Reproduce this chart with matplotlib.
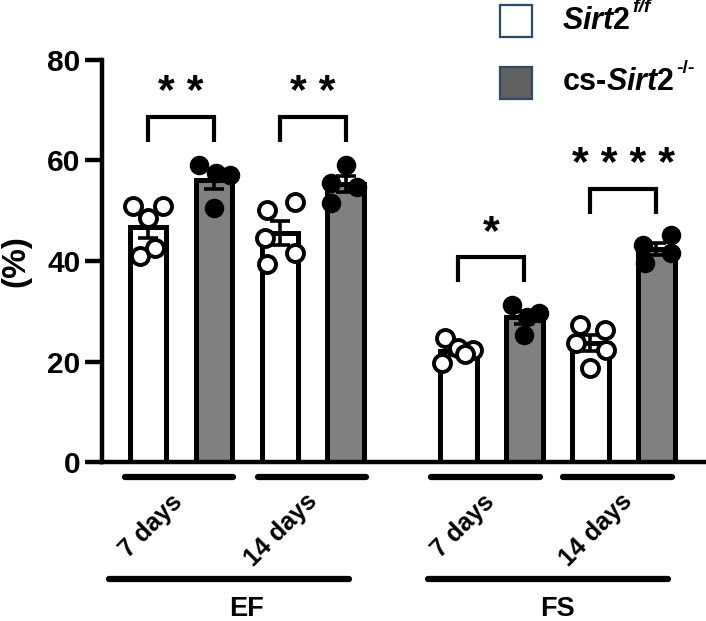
import numpy as np
import matplotlib
matplotlib.use('Agg')
import matplotlib.pyplot as plt
from matplotlib.patches import Rectangle
import matplotlib.transforms as mtransforms

plt.rcParams['font.family'] = ['Liberation Sans', 'DejaVu Sans']
plt.rcParams['font.weight'] = 'bold'
plt.rcParams['mathtext.fontset'] = 'custom'
plt.rcParams['mathtext.rm'] = 'Liberation Sans:bold'
plt.rcParams['mathtext.it'] = 'Liberation Sans:italic:bold'
plt.rcParams['mathtext.bf'] = 'Liberation Sans:bold'

# Data (individual animals, %)
groups = ['EF', 'FS']
days = ['7 days', '14 days', '7 days', '14 days']
ctrl_points = [
    [50.9, 50.9, 48.6, 40.9, 42.6],   # EF 7 days
    [50.2, 51.8, 44.6, 41.6, 39.4],   # EF 14 days
    [24.7, 22.7, 22.3, 21.5, 19.7],   # FS 7 days
    [27.3, 26.3, 23.7, 22.3, 18.7],   # FS 14 days
]
ko_points = [
    [59.2, 57.5, 57.2, 50.6],
    [59.2, 55.6, 51.6, 54.8],
    [31.3, 28.9, 29.7, 25.3],
    [45.2, 43.2, 41.6, 39.6],
]
# horizontal spread of the dots as seen in the picture
ctrl_jitter = [
    [-0.23, 0.23, 0.0, -0.12, 0.11],
    [-0.20, 0.23, -0.23, 0.23, -0.20],
    [-0.20, 0.0, 0.23, 0.10, -0.25],
    [-0.16, 0.22, -0.21, 0.24, 0.0],
]
ko_jitter = [
    [-0.22, 0.03, 0.24, 0.0],
    [0.0, -0.22, -0.22, 0.17],
    [-0.18, 0.05, 0.22, 0.0],
    [0.23, -0.20, 0.23, -0.17],
]
stars = ['* *', '* *', '*', '* * * *']
legend_names = ['$\\mathit{Sirt2}$', 'cs-$\\mathit{Sirt2}$']
legend_sups = ['f/f', '-/-']

ctrl_mean = [np.mean(p) for p in ctrl_points]
ko_mean = [np.mean(p) for p in ko_points]
ctrl_sem = [np.std(p, ddof=1) / np.sqrt(len(p)) for p in ctrl_points]
ko_sem = [np.std(p, ddof=1) / np.sqrt(len(p)) for p in ko_points]

# bar positions
pair_start = np.array([0, 2, 4.7, 6.7])
x_ctrl = pair_start
x_ko = pair_start + 1

fig = plt.figure(figsize=(7.06, 6.21), dpi=100)
ax = fig.add_axes([0.1445, 0.256, 0.854, 0.6474])

lw = 3.6
bw = 0.56
ax.bar(x_ctrl, ctrl_mean, width=bw, color='white', edgecolor='black', linewidth=lw, zorder=2)
ax.bar(x_ko, ko_mean, width=bw, color='#808080', edgecolor='black', linewidth=lw, zorder=2)
ax.errorbar(x_ctrl, ctrl_mean, yerr=ctrl_sem, fmt='none', ecolor='black',
            elinewidth=2.6, capsize=7, capthick=2.6, zorder=3)
ax.errorbar(x_ko, ko_mean, yerr=ko_sem, fmt='none', ecolor='black',
            elinewidth=2.6, capsize=7, capthick=2.6, zorder=3)

for i in range(4):
    ax.scatter(x_ctrl[i] + np.array(ctrl_jitter[i]), ctrl_points[i], s=150,
               facecolor='white', edgecolor='black', linewidth=2.8, zorder=4, clip_on=False)
    ax.scatter(x_ko[i] + np.array(ko_jitter[i]), ko_points[i], s=170,
               facecolor='black', edgecolor='black', linewidth=1, zorder=4, clip_on=False)

# significance brackets
bracket_top = [68.7, 68.7, 40.8, 54.4]
for i in range(4):
    y = bracket_top[i]
    ax.plot([x_ctrl[i], x_ctrl[i], x_ko[i], x_ko[i]], [y - 5, y, y, y - 5],
            color='black', lw=3, solid_capstyle='butt', solid_joinstyle='miter', zorder=3)
    ax.text((x_ctrl[i] + x_ko[i]) / 2, y + 2.6, stars[i], ha='center', va='baseline',
            fontsize=31, fontweight='bold')

ax.set_xlim(-0.697, 8.44)
ax.set_ylim(0, 80)
ax.set_yticks([0, 20, 40, 60, 80])
ax.set_xticks([])
ax.tick_params(axis='y', length=12, width=3.2, labelsize=21.5, pad=3.5)
for lab in ax.get_yticklabels():
    lab.set_fontweight('bold')
for s in ['top', 'right']:
    ax.spines[s].set_visible(False)
ax.spines['left'].set_linewidth(3.2)
ax.spines['bottom'].set_linewidth(3.2)
ax.set_ylabel('(%)', fontsize=24, fontweight='bold')
ax.yaxis.label.set_va('center')
ax.yaxis.set_label_coords(-0.1426, 0.5)

# labels under the axis
trans = mtransforms.blended_transform_factory(ax.transData, ax.transAxes)
small_lines = [(-0.35, 1.29), (1.67, 3.30), (4.29, 5.94), (6.29, 7.94)]
day_x = [0.045, 2.02, 4.78, 6.79]
day_y = [-0.158, -0.169, -0.160, -0.169]
for i in range(4):
    ax.plot(small_lines[i], [-0.037, -0.037], transform=trans, color='black',
            lw=4.5, solid_capstyle='round', clip_on=False)
    ax.text(day_x[i], day_y[i], days[i], transform=trans, rotation=45,
            ha='center', va='center', rotation_mode='anchor', fontsize=18, fontweight='bold')

big_lines = [(-0.59, 3.05), (4.24, 7.88)]
group_x = [1.485, 6.2]
for i in range(2):
    ax.plot(big_lines[i], [-0.291, -0.291], transform=trans, color='black',
            lw=4.5, solid_capstyle='round', clip_on=False)
    ax.text(group_x[i], -0.366, groups[i], transform=trans, ha='center', va='center',
            fontsize=19.5, fontweight='bold')

# legend
box_y = [0.9404, 0.8406]
box_colors = ['white', '#606060']
text_y = [0.966, 0.868]
fig.canvas.draw()
renderer = fig.canvas.get_renderer()
for i in range(2):
    fig.add_artist(Rectangle((0.708, box_y[i]), 0.0453, 0.0515, transform=fig.transFigure,
                             facecolor=box_colors[i], edgecolor='#2e4a66', linewidth=1.6))
    t = fig.text(0.796, text_y[i], legend_names[i], fontsize=22, fontweight='bold',
                 va='center', ha='left')
    bb = t.get_window_extent(renderer=renderer).transformed(fig.transFigure.inverted())
    style = 'italic' if i == 0 else 'normal'
    fig.text(bb.x1 + 0.002, text_y[i] + 0.022, legend_sups[i], fontsize=14,
             fontweight='bold', fontstyle=style, va='center', ha='left')

fig.savefig('out.png', dpi=100)
